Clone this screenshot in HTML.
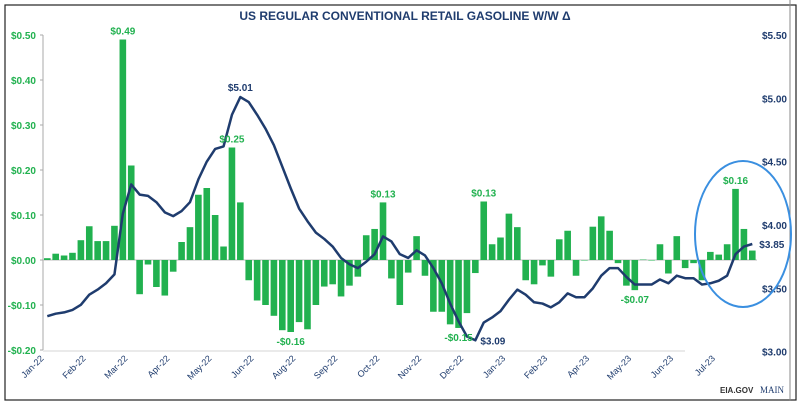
<!DOCTYPE html>
<html><head><meta charset="utf-8"><style>
html,body{margin:0;padding:0;background:#fff;}
svg{display:block;font-family:"Liberation Sans",sans-serif;}
</style></head><body>
<svg id="chart" width="797" height="401">
<rect x="5" y="5" width="791" height="395" fill="#fff" stroke="#222" stroke-width="1.2"/>
<text x="405" y="20" text-anchor="middle" font-size="12" font-weight="bold" fill="#1f3c6e">US REGULAR CONVENTIONAL RETAIL GASOLINE W/W Δ</text>
<g id="axes"></g><g id="bars"></g><g id="line"></g><g id="labels"></g>
<ellipse cx="743" cy="234" rx="48" ry="73" fill="none" stroke="#3a8fe0" stroke-width="2"/>
<text x="720" y="393" font-size="8" font-weight="bold" fill="#333">EIA.GOV</text>
<text x="760" y="393" font-size="9" font-family="Liberation Serif" fill="#1f3c6e">MAIN</text>
</svg>
<script>
const weeklyChange=[0.004,0.014,0.01,0.016,0.044,0.075,0.042,0.042,0.076,0.49,0.21,-0.076,-0.01,-0.06,-0.079,-0.026,0.04,0.073,0.145,0.16,0.10,0.03,0.25,0.128,-0.045,-0.09,-0.10,-0.124,-0.156,-0.16,-0.138,-0.154,-0.10,-0.059,-0.054,-0.081,-0.057,-0.037,0.055,0.069,0.128,-0.041,-0.10,-0.028,0.053,-0.035,-0.115,-0.115,-0.143,-0.151,-0.118,-0.029,0.13,0.035,0.05,0.103,0.073,-0.045,-0.054,-0.012,-0.037,0.046,0.065,-0.035,0,0.074,0.097,0.065,-0.007,-0.057,-0.067,0.001,-0.001,0.035,-0.03,0.053,-0.018,-0.007,-0.045,0.018,0.012,0.035,0.158,0.069,0.021];
const retailPrice=[3.28,3.30,3.31,3.33,3.37,3.45,3.49,3.54,3.61,4.09,4.32,4.24,4.23,4.18,4.10,4.07,4.11,4.18,4.36,4.50,4.60,4.62,4.87,5.01,4.97,4.87,4.76,4.63,4.46,4.29,4.13,4.03,3.94,3.89,3.83,3.74,3.69,3.66,3.71,3.77,3.91,3.87,3.77,3.74,3.80,3.76,3.66,3.54,3.38,3.24,3.12,3.09,3.23,3.27,3.32,3.41,3.49,3.45,3.39,3.38,3.35,3.39,3.46,3.43,3.43,3.50,3.60,3.66,3.66,3.59,3.53,3.53,3.53,3.57,3.54,3.60,3.58,3.58,3.53,3.54,3.56,3.60,3.77,3.83,3.85];
const monthLabels=["Jan-22","Feb-22","Mar-22","Apr-22","May-22","Jun-22","Aug-22","Sep-22","Oct-22","Nov-22","Dec-22","Jan-23","Feb-23","Apr-23","May-23","Jun-23","Jul-23"];
const leftTicks=[0.5,0.4,0.3,0.2,0.1,0,-0.1,-0.2];
const rightTicks=[5.5,5.0,4.5,4.0,3.5,3.0];
const changeCallouts=[[9,"$0.49"],[22,"$0.25"],[29,"-$0.16"],[40,"$0.13"],[49,"-$0.15"],[52,"$0.13"],[70,"-$0.07"],[82,"$0.16"]];

const NS="http://www.w3.org/2000/svg";
function mk(tag,attrs,parent,txt){const e=document.createElementNS(NS,tag);for(const k in attrs)e.setAttribute(k,attrs[k]);if(txt!==undefined)e.textContent=txt;parent.appendChild(e);return e;}
const x0=47.3,x1=752.3;
const xs=i=>x0+(x1-x0)*i/(weeklyChange.length-1);
const yL=v=>260-v*450;
const yR=p=>351.7-(p-3)*126.7;
const green="#21b14f",navy="#1f3c6e";
const ax=document.getElementById('axes'),bg=document.getElementById('bars'),lg=document.getElementById('line'),lb=document.getElementById('labels');

let a=mk('line',{x1:43,y1:yL(0.5),x2:43,y2:yL(-0.2),stroke:'#aaa','stroke-width':1},ax);


leftTicks.forEach(v=>{
  mk('line',{x1:40,x2:43,y1:yL(v),y2:yL(v),stroke:'#aaa'},ax);
  const t=mk('text',{x:36,y:yL(v)+4,'text-anchor':'end','font-size':10,'font-weight':'bold',fill:green},ax,(v<0?'-$':'$')+Math.abs(v).toFixed(2));
  
  
});
a=mk('line',{x1:790,y1:0,x2:790,y2:401,stroke:'#888','stroke-width':1},ax);


rightTicks.forEach(p=>{
  const t=mk('text',{x:787,y:yR(p)+4,'text-anchor':'end','font-size':10,'font-weight':'bold',fill:navy},ax,'$'+p.toFixed(2));
  
  
});
a=mk('line',{x1:43,x2:685,y1:351,y2:351,stroke:'#e4e4e4','stroke-width':1.5},ax);


a=mk('line',{x1:43,x2:757,y1:yL(0),y2:yL(0),stroke:'#bbb','stroke-width':1},ax);


monthLabels.forEach((m,k)=>{
  const cx=xs(k*5)-3,cy=359;
  const t=mk('text',{x:cx,y:cy,'text-anchor':'end','font-size':9,fill:navy,transform:`rotate(-45 ${cx} ${cy})`},ax,m);
  
  
});
weeklyChange.forEach((v,i)=>{
  const y=Math.min(yL(v),yL(0)),h=Math.abs(yL(v)-yL(0));
  const r=mk('rect',{x:xs(i)-3.3,y:y,width:6.6,height:Math.max(h,0.5),fill:green},bg);
  
  
});
const pl=mk('polyline',{points:retailPrice.map((p,i)=>xs(i)+','+yR(p)).join(' '),fill:'none',stroke:navy,'stroke-width':2.5,'stroke-linejoin':'round'},lg);


changeCallouts.forEach(([i,s])=>{
  const v=weeklyChange[i];
  const y=v>=0?yL(v)-5:yL(v)+13;
  const t=mk('text',{x:xs(i),y:y,'text-anchor':'middle','font-size':10,'font-weight':'bold',fill:green},lb,s);
  
  
});
let t=mk('text',{x:xs(23),y:yR(retailPrice[23])-6,'text-anchor':'middle','font-size':10,'font-weight':'bold',fill:navy},lb,'$'+retailPrice[23].toFixed(2));


t=mk('text',{x:xs(51)+5,y:yR(retailPrice[51])+4,'font-size':10,'font-weight':'bold',fill:navy},lb,'$'+retailPrice[51].toFixed(2));


t=mk('text',{x:xs(84)+7,y:yR(retailPrice[84])+4,'font-size':10,'font-weight':'bold',fill:navy},lb,'$'+retailPrice[84].toFixed(2));


</script>
</body></html>
